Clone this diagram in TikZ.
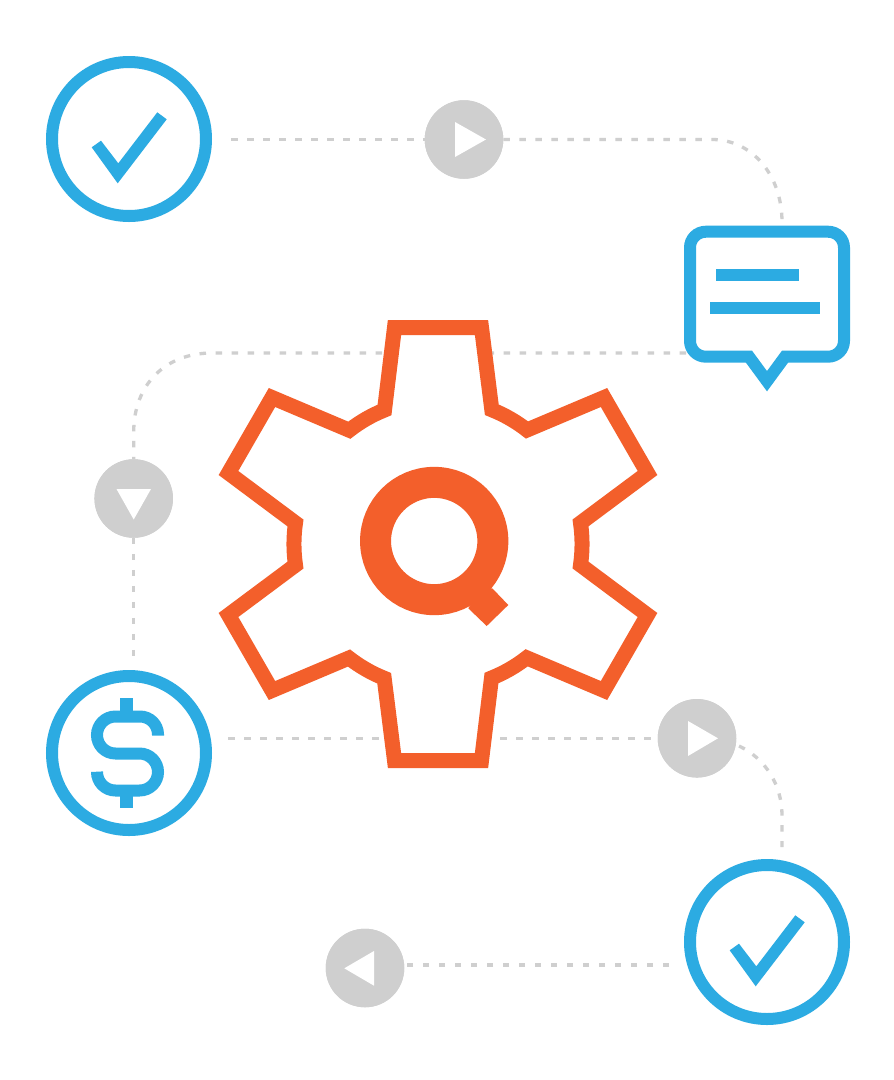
\documentclass[tikz,border=0pt]{standalone}
\definecolor{gearorange}{HTML}{F35F2B}
\definecolor{iconblue}{HTML}{2CABE2}
\definecolor{flowgrey}{HTML}{CFCFCF}
\tikzset{
  ring/.style={circle,draw=iconblue,line width=12pt,fill=white,minimum size=154pt,inner sep=0pt},
  stepdot/.style={circle,fill=flowgrey,minimum size=78.5pt,inner sep=0pt,outer sep=0pt},
  conn/.style={draw=flowgrey,line width=3.3pt,dash pattern=on 6.5pt off 9.5pt},
  tri/.style={fill=white},
  checkmark/.pic={\fill[iconblue] (-37.3,8.3)--(-28,1.7)--(-10.7,24.3)--(28.3,-26.7)--(37.7,-19.7)--(-11.3,44.3)--cycle;}
}
\begin{document}
\begin{tikzpicture}[x=1pt,y=-1pt]
\useasboundingbox (0,0) rectangle (894,1080);
\fill[white] (0,0) rectangle (894,1080);
% nodes
\node[ring] (checka) at (129,139) {};
\node[ring] (dollar) at (129,753) {};
\node[ring] (checkb) at (767,942) {};
\node[stepdot] (dota) at (464,139.5) {};
\node[stepdot] (dotb) at (133.7,498.5) {};
\node[stepdot] (dotc) at (697,738.3) {};
\node[stepdot] (dotd) at (365,968) {};
\node[minimum width=166pt,minimum height=137pt,inner sep=0pt,outer sep=0pt] (box) at (767,294.5) {};
% bend and end coordinates
\coordinate (as) at (231,139.5);
\coordinate (ab1) at (712,139.5);
\coordinate (ab2) at (782,222);
\coordinate (bs) at (686,353);
\coordinate (bb1) at (212,353);
\coordinate (bb2) at (133.7,432);
\coordinate (de) at (133.7,656);
\coordinate (cs) at (228,738.3);
\coordinate (cb1) at (739,746);
\coordinate (cb2) at (782,815);
\coordinate (cb3) at (782,847);
\coordinate (ds) at (669,965);
\coordinate (de2) at (404,965);
% connectors
\path[conn] (as) -- (dota.west);
\path[conn] (dota.east) -- (ab1) .. controls (752,139.5) and (782,175) .. (ab2);
\path[conn] (bs) -- (bb1) .. controls (165,353) and (133.7,385) .. (bb2) -- (dotb.north);
\path[conn] (dotb.south) -- (de);
\path[conn] (cs) -- (dotc.west);
\path[conn] (cb1) .. controls (765,758) and (782,785) .. (cb2) -- (cb3);
\path[conn] (ds) -- (de2);
% repaint grey discs above the connector ends
\node[stepdot] at (dota) {};
\node[stepdot] at (dotb) {};
\node[stepdot] at (dotc) {};
\node[stepdot] at (dotd) {};
% triangles
\fill[tri] (455,122)--(486,139.5)--(455,157)--cycle;
\fill[tri] (116.5,489)--(151,489)--(133.7,519.5)--cycle;
\fill[tri] (688,721)--(718,738.3)--(688,756)--cycle;
\fill[tri] (374,951)--(344.3,968.3)--(374,985.7)--cycle;
% gear
\begin{scope}[shift={(438,544)}]
\filldraw[draw=gearorange,fill=white,line width=15pt,miter limit=10]
 (-43.5,-216.5) -- (-53.5,-134) arc[start angle=248.2,end angle=232,radius=144]
 -- (-166,-146.5) -- (-209.5,-71) -- (-142.5,-21) arc[start angle=188.4,end angle=171.6,radius=144]
 -- (-209.5,71) -- (-166,146.5) -- (-89,114) arc[start angle=128,end angle=111.8,radius=144]
 -- (-43.5,216.5) -- (43.5,216.5) -- (53.5,134) arc[start angle=68.2,end angle=52,radius=144]
 -- (166,146.5) -- (209.5,71) -- (142.5,21) arc[start angle=8.4,end angle=-8.4,radius=144]
 -- (209.5,-71) -- (166,-146.5) -- (89,-114) arc[start angle=-52,end angle=-68.2,radius=144]
 -- (43.5,-216.5) -- cycle;
\end{scope}
% magnifier
\node[circle,draw=gearorange,line width=31pt,minimum size=117.3pt,inner sep=0pt,fill=white] (lens) at (434.2,541) {};
\fill[gearorange] (468.3,608.3)--(486.7,626)--(508.3,605)--(492.3,588.3)--(480,590)--cycle;
% check marks
\pic at (checka) {checkmark};
\pic at (checkb) {checkmark};
% speech bubble
\draw[iconblue,line width=12pt,miter limit=10]
 (749,356.7) -- (767,381.2) -- (785,356.7) -- (828,356.7)
 .. controls (837,356.7) and (844,349.7) .. (844,340.7) -- (844,247.7)
 .. controls (844,238.7) and (837,231.7) .. (828,231.7) -- (706,231.7)
 .. controls (697,231.7) and (690,238.7) .. (690,247.7) -- (690,340.7)
 .. controls (690,349.7) and (697,356.7) .. (706,356.7) -- cycle;
\fill[iconblue] (716,269) rectangle (798.7,281);
\fill[iconblue] (710,301.7) rectangle (820,313.7);
% dollar
\draw[iconblue,line width=12pt] (158,735.5) -- (158,734.5) arc[start angle=0,end angle=-90,radius=18]
 -- (115.5,716.5) arc[start angle=-90,end angle=-180,radius=18.5]
 arc[start angle=180,end angle=90,radius=18.5]
 -- (139.5,753.5) arc[start angle=-90,end angle=0,radius=18.5]
 arc[start angle=0,end angle=90,radius=18.5]
 -- (115.5,790.5) arc[start angle=90,end angle=180,radius=18.5] -- (97,772.5);
\fill[iconblue] (120.3,697.7) rectangle (132.7,712);
\fill[iconblue] (120.3,795) rectangle (132.7,808);
\end{tikzpicture}
\end{document}
